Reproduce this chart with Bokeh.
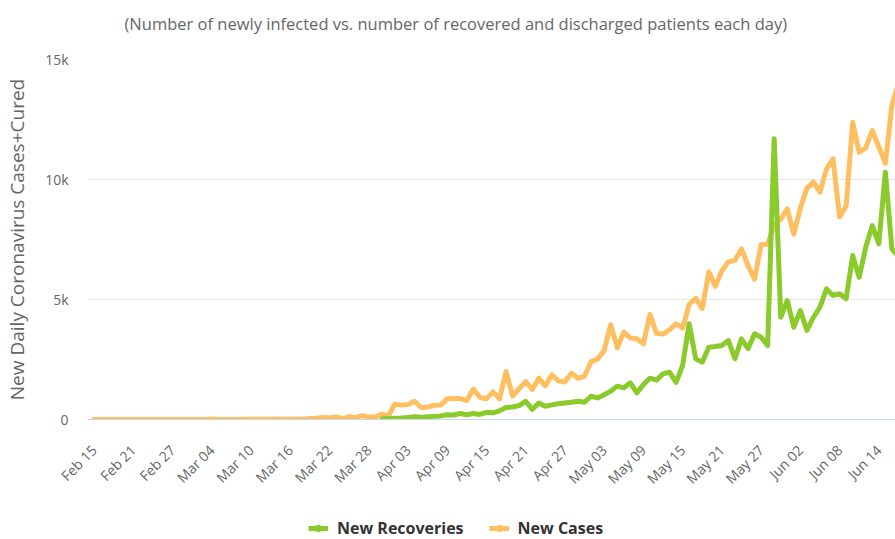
import math
import pandas as pd
from bokeh.plotting import figure
from bokeh.layouts import column
from bokeh.models import FixedTicker, DatetimeTickFormatter, Legend, LegendItem, Range1d
from bokeh.embed import file_html
from bokeh.resources import INLINE

# ---------------- data ----------------
title_text = "(Number of newly infected vs. number of recovered and discharged patients each day)"
y_axis_title = "New Daily Coronavirus Cases+Cured"

cases_start = "2020-02-15"
new_cases = [
    0, 0, 0, 0, 0, 0, 0, 0, 0, 0, 0, 0, 0, 0, 0, 0,          # Feb 15 - Mar 01
    2, 1, 22, 2, 1, 3, 5, 9, 15, 8, 11, 9, 20, 11, 6, 23,    # Mar 02 - Mar 17
    14, 38, 50, 86, 66, 103, 37, 121, 70, 160, 100, 106,     # Mar 18 - Mar 29
    227, 146,                                                # Mar 30 - Mar 31
    640, 600, 620, 760, 500, 520, 590, 600, 860, 880,        # Apr 01 - Apr 10
    870, 790, 1270, 920, 860, 1150, 860, 2000, 980, 1280,    # Apr 11 - Apr 20
    1580, 1250, 1720, 1400, 1860, 1610, 1560, 1930, 1720, 1800,  # Apr 21 - Apr 30
    2410, 2520, 2870, 3950, 2990, 3640, 3400, 3370, 3150, 4380,  # May 01 - May 10
    3590, 3560, 3730, 3990, 3810, 4790, 5050, 4630, 6150, 5550,  # May 11 - May 20
    6200, 6570, 6630, 7110, 6410, 5840, 7290, 7300, 8110, 8340,  # May 21 - May 30
    8780,                                                        # May 31
    7720, 8810, 9630, 9890, 9470, 10440, 10860, 8440, 8900, 12380,  # Jun 01 - Jun 10
    11130, 11320, 12040, 11370, 10670, 13100, 14000,                # Jun 11 - Jun 17
]

recoveries_start = "2020-03-30"
new_recoveries = [
    20, 40,                                                  # Mar 30 - Mar 31
    50, 60, 80, 120, 90, 110, 130, 150, 200, 190,            # Apr 01 - Apr 10
    250, 200, 250, 210, 300, 280, 360, 500, 520, 580,        # Apr 11 - Apr 20
    760, 420, 690, 550, 610, 660, 690, 720, 760, 720,        # Apr 21 - Apr 30
    970, 900, 1030, 1180, 1390, 1320, 1530, 1110, 1460, 1720,    # May 01 - May 10
    1640, 1900, 1970, 1550, 2250, 3990, 2530, 2390, 3010, 3040,  # May 11 - May 20
    3080, 3290, 2530, 3360, 2950, 3570, 3430, 3080, 11700, 4260, # May 21 - May 30
    4960,                                                        # May 31
    3850, 4540, 3710, 4260, 4680, 5440, 5170, 5240, 5030, 6830,  # Jun 01 - Jun 10
    5930, 7180, 8080, 7320, 10300, 7110, 6800,                   # Jun 11 - Jun 17
]

x_tick_labels = ["Feb 15", "Feb 21", "Feb 27", "Mar 04", "Mar 10", "Mar 16", "Mar 22",
                 "Mar 28", "Apr 03", "Apr 09", "Apr 15", "Apr 21", "Apr 27", "May 03",
                 "May 09", "May 15", "May 21", "May 27", "Jun 02", "Jun 08", "Jun 14"]
y_ticks = [0, 5000, 10000, 15000]
y_tick_labels = ["0", "5k", "10k", "15k"]

series_names = ["New Recoveries", "New Cases"]

# ---------------- style ----------------
GREEN = "#8ACA2B"
ORANGE = "#FFBF60"
FONT = "Open Sans"
GREY = "#666666"
LW = 5

case_dates = pd.date_range(cases_start, periods=len(new_cases), freq="D")
rec_dates = pd.date_range(recoveries_start, periods=len(new_recoveries), freq="D")

x_start = pd.Timestamp(cases_start) - pd.Timedelta(days=1)
x_end = x_start + pd.Timedelta(hours=123.55 * 24)


def strip(height):
    s = figure(width=895, height=height, output_backend="svg", toolbar_location=None,
               x_range=Range1d(0, 1), y_range=Range1d(0, 1),
               x_axis_location=None, y_axis_location=None, min_border=0)
    s.outline_line_color = None
    s.grid.visible = False
    s.background_fill_color = "white"
    s.border_fill_color = "white"
    return s


# ---------------- title strip ----------------
tp = strip(46)
tp.title.text = title_text
tp.title.align = "left"
tp.title.vertical_align = "bottom"
tp.title.text_font = FONT
tp.title.text_font_size = "16.5px"
tp.title.text_font_style = "normal"
tp.title.text_color = GREY
tp.title.offset = 37
tp.title.standoff = 19

# ---------------- main chart ----------------
p = figure(width=895, height=457, x_axis_type="datetime",
           output_backend="svg", toolbar_location=None,
           x_range=Range1d(x_start, x_end), y_range=Range1d(0, 15000),
           min_border_left=87, min_border_right=0,
           min_border_top=13, min_border_bottom=84)
p.title.text = ""
p.title.standoff = 0
p.title.text_font_size = "1px"

p.background_fill_color = "white"
p.border_fill_color = "white"
p.outline_line_color = None

r_cases = p.line(case_dates, new_cases, line_color=ORANGE, line_width=LW,
                 line_join="round", line_cap="round")
r_rec = p.line(rec_dates, new_recoveries, line_color=GREEN, line_width=LW,
               line_join="round", line_cap="round")

# y axis
p.yaxis.ticker = FixedTicker(ticks=y_ticks)
p.yaxis.major_label_overrides = dict(zip(y_ticks, y_tick_labels))
p.yaxis.axis_line_color = None
p.yaxis.major_tick_line_color = None
p.yaxis.minor_tick_line_color = None
p.yaxis.major_tick_out = 0
p.yaxis.major_tick_in = 0
p.yaxis.minor_tick_out = 0
p.yaxis.major_label_standoff = 19
p.yaxis.major_label_text_font = FONT
p.yaxis.major_label_text_font_size = "14px"
p.yaxis.major_label_text_color = GREY
p.yaxis.axis_label = y_axis_title
p.yaxis.axis_label_text_font = FONT
p.yaxis.axis_label_text_font_size = "19px"
p.yaxis.axis_label_text_font_style = "normal"
p.yaxis.axis_label_text_color = GREY
p.yaxis.axis_label_standoff = 12

# x axis
x_tick_ms = [pd.Timestamp(pd.to_datetime(l + " 2020", format="%b %d %Y")).timestamp() * 1000
             for l in x_tick_labels]
p.xaxis.ticker = FixedTicker(ticks=x_tick_ms)
fmt = "%b %d"
p.xaxis.formatter = DatetimeTickFormatter(days=fmt, months=fmt, years=fmt, hours=fmt,
                                          hourmin=fmt, minutes=fmt)
p.xaxis.major_label_orientation = math.pi / 4
p.xaxis.major_label_standoff = 22
p.xaxis.axis_line_color = "#ccd6eb"
p.xaxis.axis_line_width = 1
p.xaxis.major_tick_line_color = None
p.xaxis.minor_tick_line_color = None
p.xaxis.major_label_text_font = FONT
p.xaxis.major_label_text_font_size = "14px"
p.xaxis.major_label_text_color = GREY

# grid
p.xgrid.grid_line_color = None
p.ygrid.grid_line_color = "#e6e6e6"
p.ygrid.grid_line_width = 1

# ---------------- legend strip ----------------
lg = strip(36)
# legend glyph renderers (same series, lying outside this strip's ranges)
l_rec = lg.line(rec_dates, new_recoveries, line_color=GREEN, line_width=LW)
s_rec = lg.scatter(rec_dates, new_recoveries, marker="circle", size=9,
                   fill_color=GREEN, line_color=GREEN)
l_cases = lg.line(case_dates, new_cases, line_color=ORANGE, line_width=LW)
s_cases = lg.scatter(case_dates, new_cases, marker="circle", size=9,
                     fill_color=ORANGE, line_color=ORANGE)

legend = Legend(items=[LegendItem(label=series_names[0], renderers=[l_rec, s_rec]),
                       LegendItem(label=series_names[1], renderers=[l_cases, s_cases])],
                orientation="horizontal", location=(221, 0))
legend.label_text_font = FONT
legend.label_text_font_size = "16px"
legend.label_text_font_style = "bold"
legend.label_text_color = "#333333"
legend.glyph_width = 20
legend.glyph_height = 16
legend.label_height = 20
legend.label_standoff = 9
legend.spacing = 25
legend.padding = 0
legend.margin = 0
legend.border_line_color = None
legend.background_fill_alpha = 0
lg.add_layout(legend)

layout = column(tp, p, lg, spacing=0)
open("out.html", "w").write(file_html(layout, INLINE))
